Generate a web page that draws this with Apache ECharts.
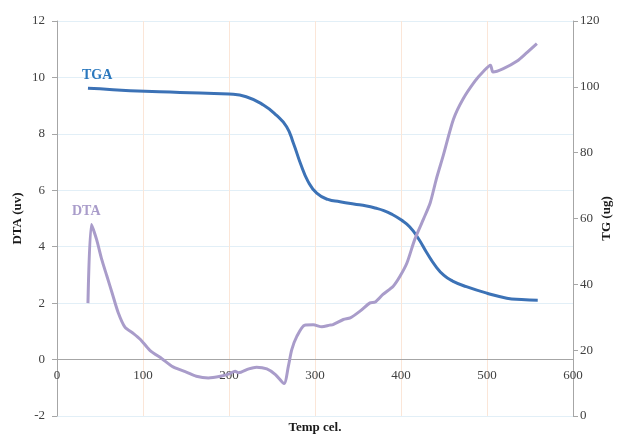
<!DOCTYPE html>
<html>
<head>
<meta charset="utf-8">
<script src="https://cdn.jsdelivr.net/npm/echarts@6/dist/echarts.min.js"></script>
<style>
html,body{margin:0;padding:0;background:#fff;}
#chart{width:630px;height:435px;}
</style>
</head>
<body>
<div id="chart"></div>
<script>
// TGA (right axis, TG in ug)
const tgaTemp = [36, 50, 85, 143, 200, 220, 240, 255, 267, 275, 283, 292, 302, 315, 329, 345, 360, 370, 380, 390, 400, 410, 420, 430, 440, 450, 460, 476, 500, 523, 540, 559];
const tgaValue = [99.6, 99.4, 98.8, 98.3, 97.8, 97.0, 94.5, 91.4, 87.9, 82.8, 76.8, 71.2, 67.7, 65.8, 65.1, 64.4, 63.8, 63.2, 62.4, 61.2, 59.6, 57.5, 54.0, 49.6, 45.6, 42.7, 41.0, 39.3, 37.3, 35.8, 35.4, 35.2];

// DTA (left axis, uv)
const dtaTemp = [36, 40, 46, 52, 58, 64, 71, 79, 89, 97, 108, 122, 135, 151, 162, 176, 190, 201, 207, 211, 223, 232, 244, 254, 264, 269, 273, 279, 288, 298, 308, 317, 321, 333, 341, 352, 364, 370, 379, 391, 399, 407, 416, 426, 434, 441, 449, 461, 472, 486, 496, 504, 507, 519, 535, 546, 558];
const dtaValue = [2.0, 4.79, 4.26, 3.55, 2.96, 2.37, 1.68, 1.15, 0.92, 0.71, 0.33, 0.03, -0.26, -0.45, -0.59, -0.65, -0.59, -0.50, -0.41, -0.47, -0.33, -0.27, -0.33, -0.53, -0.85, -0.24, 0.35, 0.83, 1.22, 1.23, 1.16, 1.22, 1.24, 1.42, 1.48, 1.71, 2.01, 2.04, 2.31, 2.60, 2.96, 3.43, 4.26, 4.97, 5.56, 6.39, 7.22, 8.52, 9.23, 9.87, 10.22, 10.43, 10.19, 10.31, 10.58, 10.87, 11.2];

const xTicks = [0, 100, 200, 300, 400, 500, 600];
const leftTicks = [-2, 0, 2, 4, 6, 8, 10, 12];
const rightTicks = [0, 20, 40, 60, 80, 100, 120];

const FONT = '"Liberation Serif", "DejaVu Serif", serif';
const chart = echarts.init(document.getElementById('chart'), null, {renderer: 'canvas'});

const tgaData = tgaTemp.map((t, i) => [t, tgaValue[i]]);
const dtaData = dtaTemp.map((t, i) => [t, dtaValue[i]]);

const gridTop = 21, gridBottom = 19, H = 435;
const plotH = H - gridTop - gridBottom;
// distance from plot bottom (-2) up to the DTA zero line
const zeroOffset = plotH * (0 - leftTicks[0]) / (leftTicks[leftTicks.length - 1] - leftTicks[0]);

chart.setOption({
  animation: false,
  backgroundColor: '#ffffff',
  grid: {left: 57, right: 57, top: gridTop, bottom: gridBottom, containLabel: false, outerBoundsMode: 'none'},
  xAxis: {
    type: 'value',
    min: xTicks[0], max: xTicks[xTicks.length - 1], interval: 100,
    offset: -zeroOffset,
    name: 'Temp cel.',
    nameLocation: 'middle',
    nameGap: 62,
    nameMoveOverlap: false,
    nameTextStyle: {fontFamily: FONT, fontWeight: 'bold', fontSize: 13, color: '#1a1a1a'},
    axisLine: {onZero: false, lineStyle: {color: '#a6a6a6', width: 1}},
    axisTick: {show: false},
    axisLabel: {fontFamily: FONT, fontSize: 13, color: '#404040', margin: 10},
    splitLine: {show: true, lineStyle: {color: '#fbe6d8', width: 1}}
  },
  yAxis: [
    {
      type: 'value', position: 'left',
      min: leftTicks[0], max: leftTicks[leftTicks.length - 1], interval: 2,
      name: 'DTA (uv)', nameLocation: 'middle', nameGap: 33, nameMoveOverlap: false,
      nameTextStyle: {fontFamily: FONT, fontWeight: 'bold', fontSize: 13, color: '#1a1a1a'},
      axisLine: {show: true, onZero: false, lineStyle: {color: '#a6a6a6', width: 1}},
      axisTick: {show: true, length: 5, lineStyle: {color: '#a6a6a6'}},
      axisLabel: {fontFamily: FONT, fontSize: 13, color: '#404040', margin: 12},
      splitLine: {show: true, lineStyle: {color: '#e2eff7', width: 1}}
    },
    {
      type: 'value', position: 'right',
      min: rightTicks[0], max: rightTicks[rightTicks.length - 1], interval: 20,
      name: 'TG (ug)', nameLocation: 'middle', nameGap: 27, nameMoveOverlap: false,
      nameTextStyle: {fontFamily: FONT, fontWeight: 'bold', fontSize: 13, color: '#1a1a1a'},
      axisLine: {show: true, onZero: false, lineStyle: {color: '#a6a6a6', width: 1}},
      axisTick: {show: true, length: 5, lineStyle: {color: '#a6a6a6'}},
      axisLabel: {fontFamily: FONT, fontSize: 13, color: '#404040', margin: 7},
      splitLine: {show: false}
    }
  ],
  series: [
    {
      name: 'TGA', type: 'line', yAxisIndex: 1, data: tgaData,
      showSymbol: false, smooth: 0.5,
      lineStyle: {color: '#3c72b6', width: 3}, itemStyle: {color: '#3c72b6'}
    },
    {
      name: 'DTA', type: 'line', yAxisIndex: 0, data: dtaData,
      showSymbol: false, smooth: 0.25,
      lineStyle: {color: '#a99cca', width: 3}, itemStyle: {color: '#a99cca'}
    }
  ],
  graphic: [
    {type: 'text', left: 82, top: 68, z: 100, style: {text: 'TGA', fontFamily: FONT, fontWeight: 'bold', fontSize: 14, fill: '#2a78be'}},
    {type: 'text', left: 72, top: 204, z: 100, style: {text: 'DTA', fontFamily: FONT, fontWeight: 'bold', fontSize: 14, fill: '#a99cca'}}
  ]
});
</script>
</body>
</html>
